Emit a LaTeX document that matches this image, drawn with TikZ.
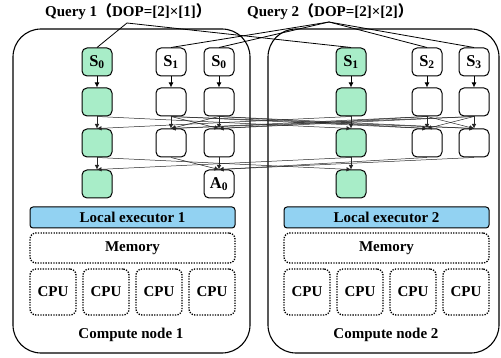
\documentclass[tikz,border=0pt]{standalone}
\usepackage{fontspec}
\setmainfont{Liberation Serif}
\newfontfamily\cjk{Noto Sans CJK SC}
\usetikzlibrary{arrows.meta, positioning}

\definecolor{opgreen}{HTML}{A8EDC8}
\definecolor{exblue}{HTML}{92D2F2}

\begin{document}
\begin{tikzpicture}[x=1pt, y=-1pt,
    lbl/.style={font=\fontsize{15}{17}\selectfont\bfseries},
    op/.style={draw, line width=1pt, rounded corners=5pt, fill=white, minimum width=30pt, minimum height=28pt, inner sep=0pt, font=\fontsize{16.5}{18}\selectfont\bfseries},
    opg/.style={op, fill=opgreen},
    cnode/.style={draw, line width=1.1pt, rounded corners=28pt},
    exec/.style={draw, line width=1pt, rounded corners=3pt, fill=exblue, minimum width=205pt, minimum height=21pt, inner sep=0pt, lbl},
    dotbox/.style={draw, line width=1.3pt, dash pattern=on 1.3pt off 1.3pt, rounded corners=6pt, inner sep=0pt, lbl},
    flow/.style={-{Latex[length=5pt, width=5pt]}, line width=0.9pt},
    shuf/.style={-{Latex[length=4.5pt, width=4.5pt]}, line width=0.5pt, black!85},
    qline/.style={line width=0.8pt}]
    \useasboundingbox (0,0) rectangle (501,358);

    % compute nodes
    \node[cnode, minimum width=237pt, minimum height=324pt] (cn1) at (131.5,191) {};
    \node[cnode, minimum width=231pt, minimum height=324pt] (cn2) at (383.5,191) {};

    % queries
    \node[lbl] (q1) at (128,12) {Query 1{\cjk（}DOP=[2]×[1]{\cjk）}};
    \node[lbl] (q2) at (330,12) {Query 2{\cjk（}DOP=[2]×[2]{\cjk）}};
    \coordinate (t1) at (127,23);
    \coordinate (t2) at (329,22);

    % pipelines on compute node 1
    \node[opg] (a1) at (97,62) {S\textsubscript{0}};
    \node[opg] (a2) at (97,102) {};
    \node[opg] (a3) at (97,143) {};
    \node[opg] (a4) at (97,184) {};
    \node[op] (b1) at (171,62) {S\textsubscript{1}};
    \node[op] (b2) at (171,102) {};
    \node[op] (b3) at (171,143) {};
    \node[op] (c1) at (219,62) {S\textsubscript{0}};
    \node[op] (c2) at (219,102) {};
    \node[op] (c3) at (219,143) {};
    \node[op] (c4) at (219,184) {A\textsubscript{0}};

    % pipelines on compute node 2
    \node[opg] (d1) at (351,62) {S\textsubscript{1}};
    \node[opg] (d2) at (351,102) {};
    \node[opg] (d3) at (351,143) {};
    \node[opg] (d4) at (351,184) {};
    \node[op] (e1) at (427,62) {S\textsubscript{2}};
    \node[op] (e2) at (427,102) {};
    \node[op] (e3) at (427,143) {};
    \node[op] (f1) at (474,62) {S\textsubscript{3}};
    \node[op] (f2) at (474,102) {};
    \node[op] (f3) at (474,143) {};

    % executors, memory, cpus
    \node[exec] (le1) at (132.5,217.5) {Local executor 1};
    \node[exec] (le2) at (386.5,217.5) {Local executor 2};
    \node[dotbox, minimum width=205pt, minimum height=30pt] (mem1) at (132.5,248) {Memory};
    \node[dotbox, minimum width=205pt, minimum height=30pt] (mem2) at (386.5,248) {Memory};
    \node[dotbox, minimum size=46pt] (cpu11) at (53,292) {CPU};
    \node[dotbox, minimum size=46pt] (cpu12) at (106,292) {CPU};
    \node[dotbox, minimum size=46pt] (cpu13) at (159,292) {CPU};
    \node[dotbox, minimum size=46pt] (cpu14) at (212,292) {CPU};
    \node[dotbox, minimum size=46pt] (cpu21) at (307,292) {CPU};
    \node[dotbox, minimum size=46pt] (cpu22) at (360,292) {CPU};
    \node[dotbox, minimum size=46pt] (cpu23) at (413,292) {CPU};
    \node[dotbox, minimum size=46pt] (cpu24) at (466,292) {CPU};
    \node[lbl] (cl1) at (131,335) {Compute node 1};
    \node[lbl] (cl2) at (386,335) {Compute node 2};

    % query to sources
    \draw[qline] (t1) -- (a1.north);
    \draw[qline] (t1) -- (d1.north);
    \draw[qline] (t2) -- (b1.north);
    \draw[qline] (t2) -- (c1.north);
    \draw[qline] (t2) -- (e1.north);
    \draw[qline] (t2) -- (f1.north);

    % first step
    \foreach \p in {a,b,c,d,e,f}
        \draw[flow] (\p1) -- (\p2);

    % exchanges
    \foreach \s in {b2,c2,e2,f2}
        \foreach \t in {b3,c3,e3,f3}
            \draw[shuf] (\s.south) -- (\t.north);
    \foreach \s in {b3,c3,e3,f3}
        \draw[shuf] (\s.south) -- (c4.north);
    \foreach \s in {a2,d2}
        \foreach \t in {a3,d3}
            \draw[shuf] (\s.south) -- (\t.north);
    \foreach \s in {a3,d3}
        \foreach \t in {a4,d4}
            \draw[shuf] (\s.south) -- (\t.north);
\end{tikzpicture}
\end{document}
